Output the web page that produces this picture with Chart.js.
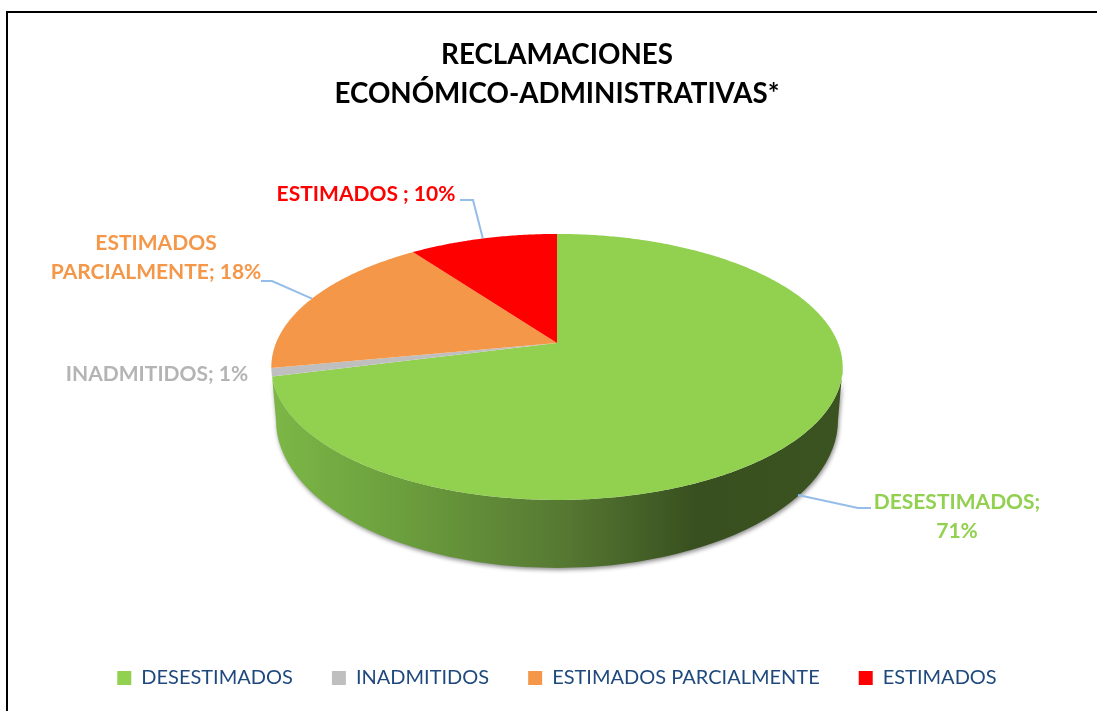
<!DOCTYPE html>
<html>
<head>
<meta charset="utf-8">
<title>Reclamaciones</title>
<script src="https://cdn.jsdelivr.net/npm/chart.js@4"></script>
<style>
    html, body { margin: 0; padding: 0; background: #fff; overflow: hidden; }
    canvas { display: block; }
</style>
</head>
<body>
<canvas id="pie" width="1097" height="711"></canvas>
<script>
const titleLines = ["RECLAMACIONES", "ECONÓMICO-ADMINISTRATIVAS*"];
const categories = ["DESESTIMADOS", "INADMITIDOS", "ESTIMADOS PARCIALMENTE", "ESTIMADOS"];
const values = [71, 1, 18, 10];
const sliceColors = ["#92d050", "#bfbfbf", "#f49748", "#ff0000"];
const labelColors = ["#92d050", "#b4b4b4", "#f49748", "#ff0000"];
const labelTexts = [
    ["DESESTIMADOS;", "71%"],
    ["INADMITIDOS; 1%"],
    ["ESTIMADOS", "PARCIALMENTE; 18%"],
    ["ESTIMADOS ; 10%"]
];

// where each data label sits and how its leader bends
const labelSpots = [
    { x: 957, y: 502, start: [798, 495], leader: [[858, 508], [871, 508]] },
    { x: 157, y: 374 },
    { x: 156, y: 243, leader: [[272, 281], [261, 281]] },
    { x: 366, y: 194, leader: [[473, 200], [460, 200]] }
];

// tilted pie: circle seen in perspective, apex is off the ellipse centre
const view = { apexY: 343, rx: 281, ry: 128.7, k: 0.18, wallY: 420, wallRx: 281, wallRy: 148 };

function project(x, angle) {
    const u = Math.cos(angle);
    const v = -Math.sin(angle);
    const w = 1 + view.k * v;
    return { x: x + view.rx * u / w, y: view.apexY - view.ry * v / w };
}

function traceRim(ctx, x, from, to) {
    for (let a = from; a < to; a += 0.01) {
        const p = project(x, a);
        ctx.lineTo(p.x, p.y);
    }
    const end = project(x, to);
    ctx.lineTo(end.x, end.y);
}

class Arc3D extends Chart.ArcElement {
    static id = "arc3d";

    draw(ctx) {
        const start = this.startAngle;
        const end = this.endAngle;

        // side wall, only the slice that holds the front of the rim
        const wallFrom = Math.max(start, Math.asin(view.k));
        const wallTo = Math.min(end, Math.PI);
        if (start < Math.PI / 2 && wallTo > wallFrom) {
            const grad = ctx.createLinearGradient(272, 0, 843, 0);
            grad.addColorStop(0, "#7cb746");
            grad.addColorStop(0.23, "#6b9e3d");
            grad.addColorStop(0.52, "#557732");
            grad.addColorStop(0.74, "#38501f");
            grad.addColorStop(1, "#3b5320");

            ctx.save();
            ctx.shadowColor = "rgba(0,0,0,0.45)";
            ctx.shadowBlur = 4;
            ctx.shadowOffsetX = 1;
            ctx.shadowOffsetY = 2;
            ctx.fillStyle = grad;
            ctx.beginPath();
            const first = project(this.x, wallFrom);
            ctx.moveTo(first.x, first.y);
            traceRim(ctx, this.x, wallFrom, wallTo);
            ctx.ellipse(this.x, view.wallY, view.wallRx, view.wallRy, 0, Math.PI, 0, true);
            ctx.closePath();
            ctx.fill();
            ctx.restore();
        }

        // top face
        ctx.fillStyle = this.options.backgroundColor;
        ctx.beginPath();
        ctx.moveTo(this.x, view.apexY);
        traceRim(ctx, this.x, start, end);
        ctx.closePath();
        ctx.fill();
    }
}

class Pie3DController extends Chart.PieController {
    static id = "pie3d";
    static defaults = { dataElementType: "arc3d" };
}

Chart.register(Arc3D, Pie3DController);

// black frame of the original, only top and left show
const framePlugin = {
    id: "frame",
    beforeDraw(chart) {
        const ctx = chart.ctx;
        ctx.save();
        ctx.fillStyle = "#fff";
        ctx.fillRect(0, 0, chart.width, chart.height);
        ctx.strokeStyle = "#000";
        ctx.lineWidth = 2;
        ctx.beginPath();
        ctx.moveTo(7, chart.height);
        ctx.lineTo(7, 12);
        ctx.lineTo(chart.width, 12);
        ctx.stroke();
        ctx.restore();
    }
};

const labelPlugin = {
    id: "sliceLabels",
    afterDatasetsDraw(chart) {
        const ctx = chart.ctx;
        const arcs = chart.getDatasetMeta(0).data;

        ctx.save();
        ctx.font = "bold 21px Lato";
        ctx.textAlign = "center";
        ctx.textBaseline = "middle";

        arcs.forEach((arc, i) => {
            const spot = labelSpots[i];

            if (spot.leader) {
                const mid = project(arc.x, (arc.startAngle + arc.endAngle) / 2);
                const anchor = spot.start ? { x: spot.start[0], y: spot.start[1] } : mid;
                ctx.strokeStyle = "#94bdea";
                ctx.lineWidth = 2;
                ctx.beginPath();
                ctx.moveTo(anchor.x, anchor.y);
                spot.leader.forEach(p => ctx.lineTo(p[0], p[1]));
                ctx.stroke();
            }

            ctx.fillStyle = labelColors[i];
            labelTexts[i].forEach((line, n) => {
                ctx.fillText(line, spot.x, spot.y + n * 29);
            });
        });
        ctx.restore();
    }
};

new Chart(document.getElementById("pie"), {
    type: "pie3d",
    data: {
        labels: categories,
        datasets: [{
            data: values,
            backgroundColor: sliceColors,
            borderWidth: 0
        }]
    },
    plugins: [framePlugin, labelPlugin],
    options: {
        responsive: false,
        animation: false,
        layout: { padding: { left: 17, right: 0, top: 0, bottom: 13 } },
        plugins: {
            tooltip: { enabled: false },
            title: {
                display: true,
                text: titleLines,
                color: "#000",
                fullSize: false,
                font: { family: "Lato", size: 27.75, weight: "bold", lineHeight: 1.42 },
                padding: { top: 35, bottom: 10 }
            },
            legend: {
                position: "bottom",
                fullSize: false,
                labels: {
                    color: "#1f497d",
                    font: { family: "Lato", size: 20 },
                    boxWidth: 14,
                    boxHeight: 14,
                    padding: 39
                }
            }
        }
    }
});
</script>
</body>
</html>
